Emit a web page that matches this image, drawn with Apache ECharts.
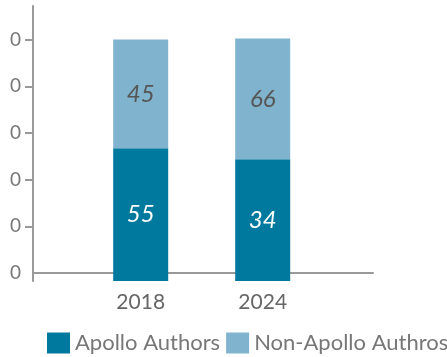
<!DOCTYPE html>
<html>
<head>
<meta charset="utf-8">
<script src="https://cdn.jsdelivr.net/npm/echarts@6/dist/echarts.min.js"></script>
<style>
  html, body { margin: 0; padding: 0; background: #fff; }
  #chart { width: 447px; height: 357px; }
</style>
</head>
<body>
<div id="chart"></div>
<script>
// 数据
const years = ['2018', '2024']
// bar heights as drawn in the picture
const apolloValues = [55, 50.4]
const nonApolloValues = [45, 50]
// numbers printed inside the bars
const apolloLabels = ['55', '34']
const nonApolloLabels = ['45', '66']
// y-axis tick values (left digits cropped off in the picture)
const yTicks = [0, 20, 40, 60, 80, 100]

const FONT = 'Lato, "Noto Sans", sans-serif'
const AXIS_GRAY = '#999'

const chart = echarts.init(document.getElementById('chart'), null, { renderer: 'canvas' })

const option = {
  animation: false,
  textStyle: { fontFamily: FONT },
  legend: {
    left: 42,
    top: 327,
    width: 440,
    itemWidth: 23,
    itemHeight: 21,
    itemGap: 6,
    icon: 'rect',
    textStyle: { fontSize: 22, color: '#777', fontFamily: FONT },
    data: ['Apollo Authors', 'Non-Apollo Authros']
  },
  grid: [
    // frame with the visible axes
    { left: 33, right: 74, top: 6, bottom: 76 },
    // bars
    { left: 79.7, right: 123.3, top: 6, bottom: 76 }
  ],
  xAxis: [
    {
      gridIndex: 0,
      type: 'value',
      min: 0,
      max: 1,
      axisLine: { show: true, lineStyle: { color: AXIS_GRAY, width: 2 } },
      axisTick: { show: false },
      axisLabel: { show: false },
      splitLine: { show: false }
    },
    {
      gridIndex: 1,
      type: 'category',
      data: years,
      axisLine: { show: false },
      axisTick: { show: false },
      axisLabel: { fontSize: 21, color: '#666', margin: 11, fontFamily: FONT }
    }
  ],
  yAxis: [
    {
      gridIndex: 0,
      type: 'value',
      min: -3.43,
      max: 114.4,
      axisLine: { show: true, lineStyle: { color: AXIS_GRAY, width: 2 } },
      axisTick: {
        show: true,
        length: 8,
        customValues: yTicks.filter(v => v > 0),
        lineStyle: { color: AXIS_GRAY, width: 2 }
      },
      axisLabel: {
        customValues: yTicks,
        margin: 12,
        fontSize: 19,
        color: '#777',
        fontFamily: FONT,
        formatter: v => String(v).slice(-1)
      },
      splitLine: { show: false }
    },
    {
      gridIndex: 1,
      type: 'value',
      min: 0,
      max: 113.87,
      show: false
    }
  ],
  series: [
    {
      name: 'Apollo Authors',
      type: 'bar',
      stack: 'total',
      xAxisIndex: 1,
      yAxisIndex: 1,
      barWidth: 55,
      data: apolloValues,
      itemStyle: { color: '#00799f' },
      label: {
        show: true,
        position: 'inside',
        fontSize: 24,
        fontStyle: 'italic',
        color: '#fff',
        fontFamily: FONT,
        formatter: p => apolloLabels[p.dataIndex]
      }
    },
    {
      name: 'Non-Apollo Authros',
      type: 'bar',
      stack: 'total',
      xAxisIndex: 1,
      yAxisIndex: 1,
      barWidth: 55,
      data: nonApolloValues,
      itemStyle: { color: '#80b3cd' },
      label: {
        show: true,
        position: 'inside',
        fontSize: 24,
        fontStyle: 'italic',
        color: '#555',
        fontFamily: FONT,
        formatter: p => nonApolloLabels[p.dataIndex]
      }
    }
  ]
}

chart.setOption(option)
</script>
</body>
</html>
